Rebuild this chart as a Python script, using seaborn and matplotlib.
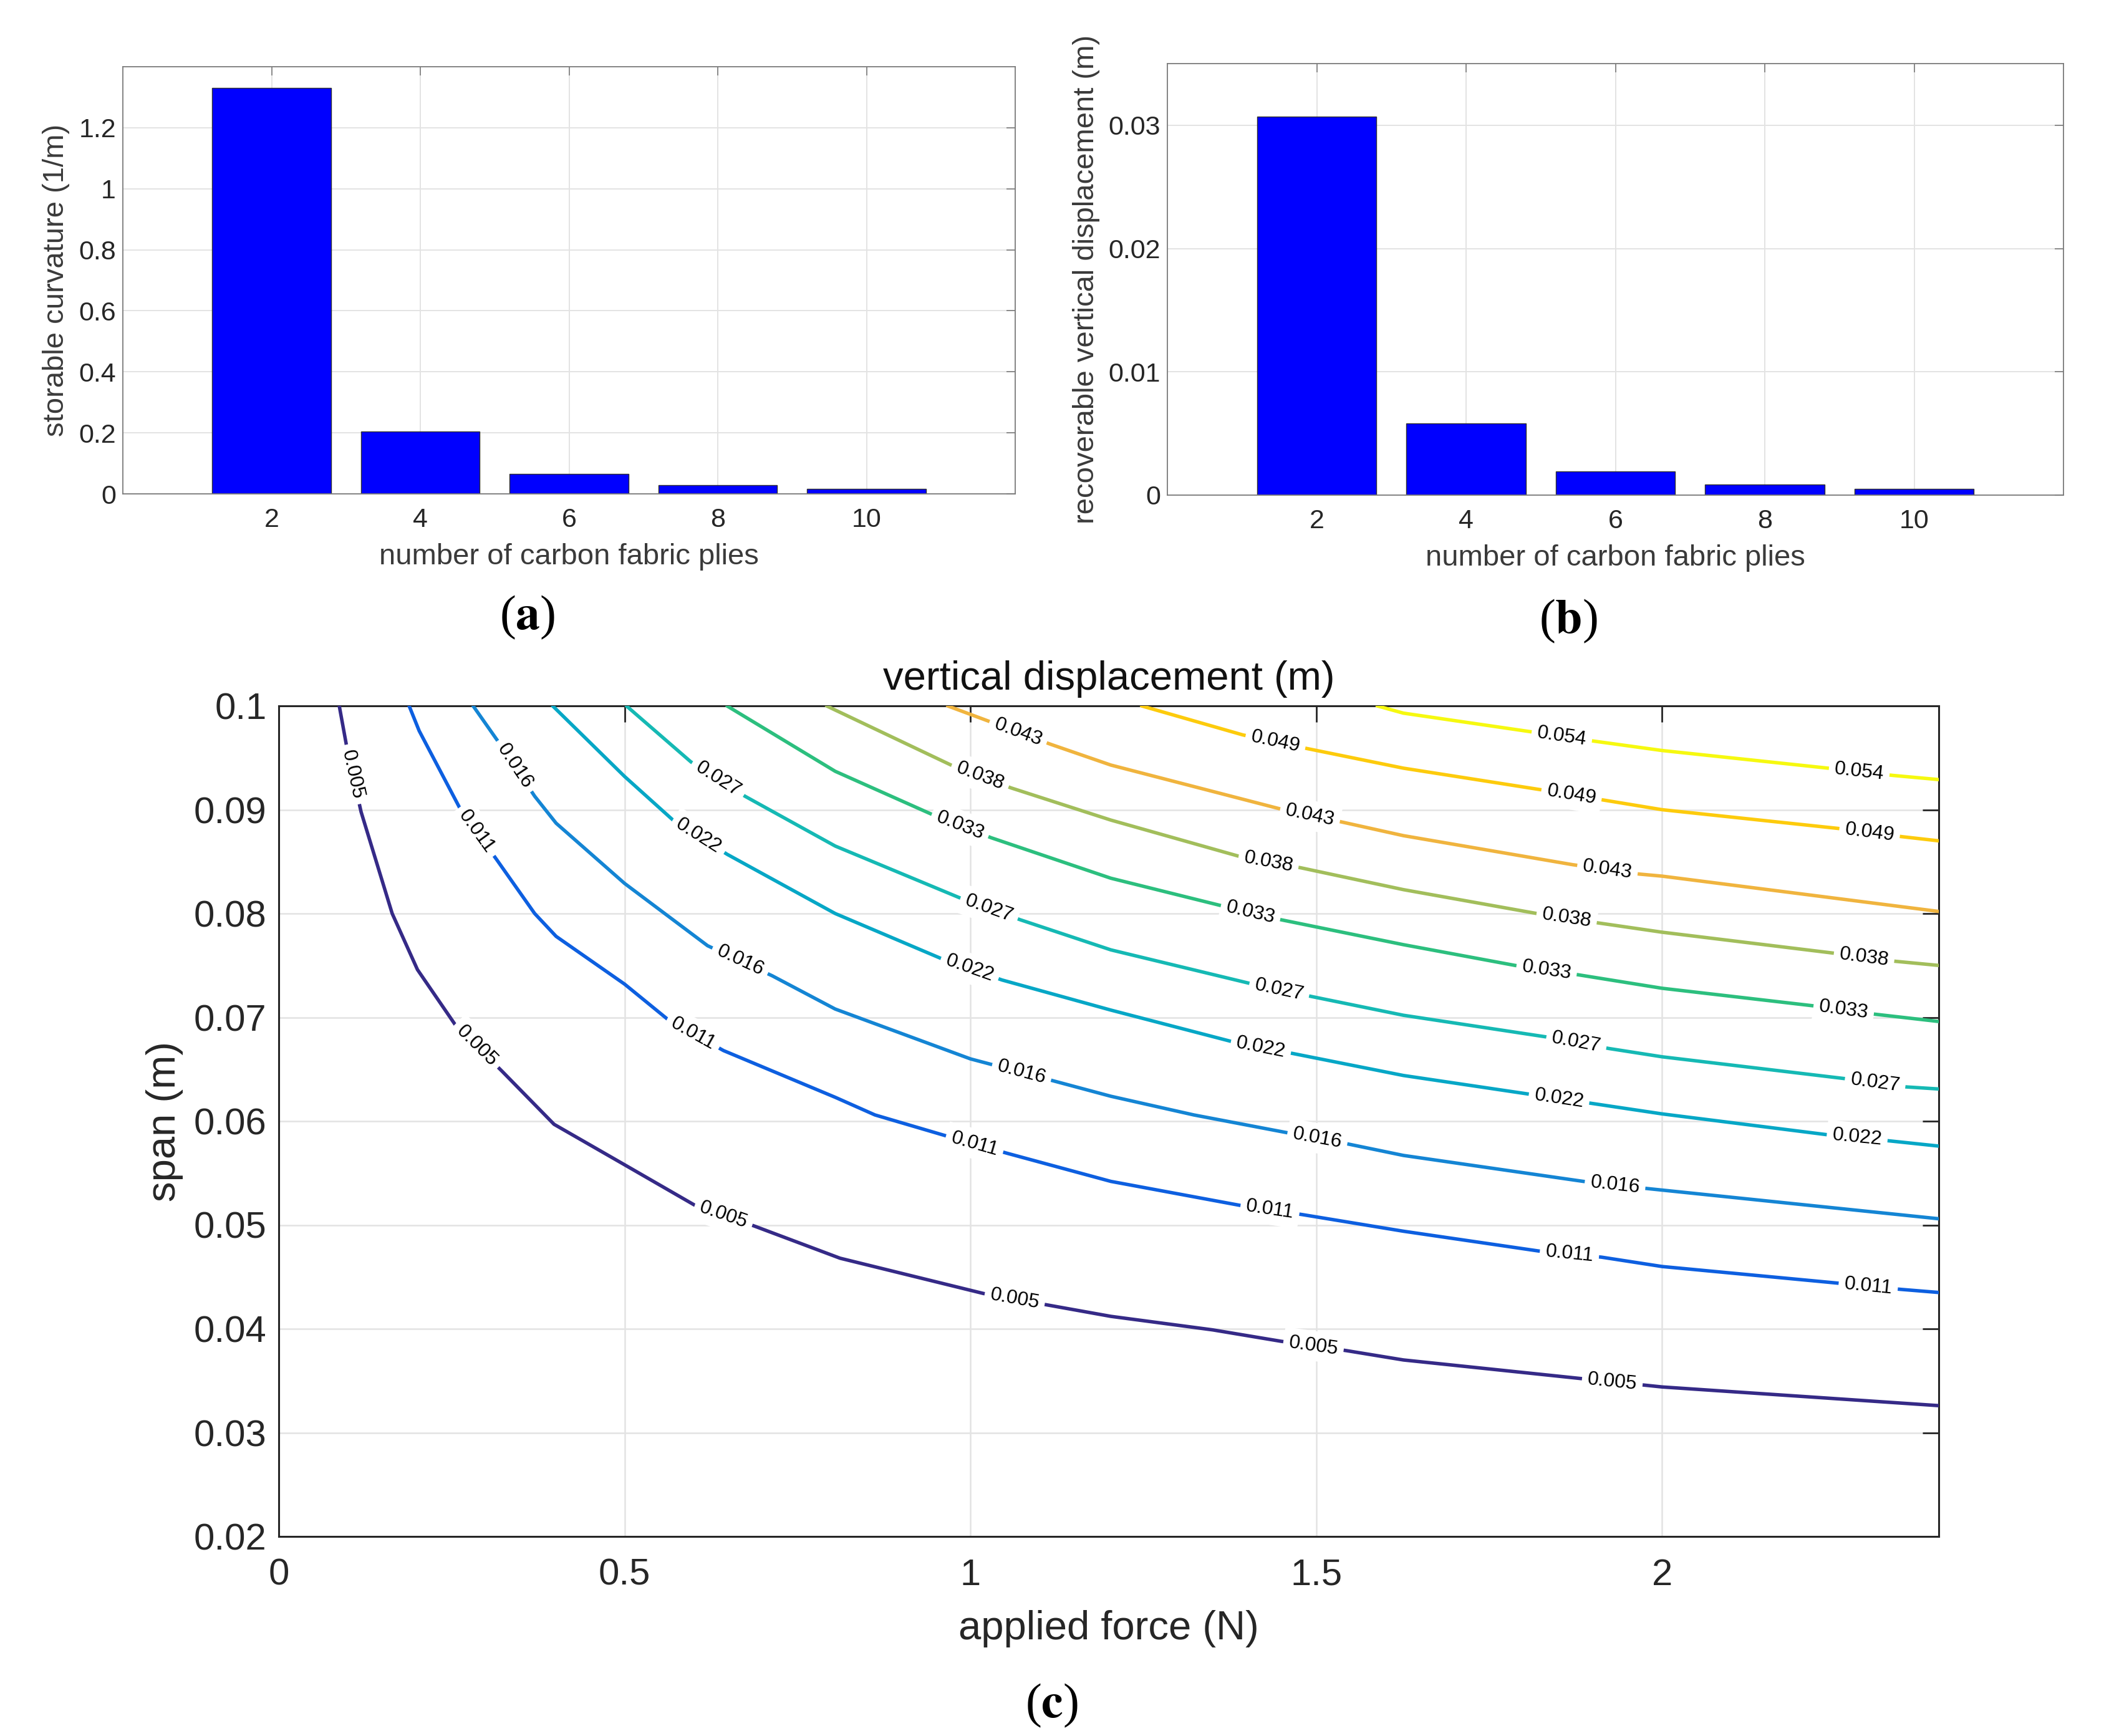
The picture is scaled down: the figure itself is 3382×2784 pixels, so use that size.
import numpy as np
import pandas as pd
import matplotlib
matplotlib.use("Agg")
import matplotlib.pyplot as plt
import seaborn as sns

# ------------------------------------------------------------------ data
plies = [2, 4, 6, 8, 10]
storable_curvature = [1.330, 0.204, 0.066, 0.029, 0.017]      # 1/m
recoverable_disp = [0.0307, 0.0058, 0.0019, 0.00085, 0.00051]  # m

curv_yticks = [0, 0.2, 0.4, 0.6, 0.8, 1.0, 1.2]
curv_yticklabels = ["0", "0.2", "0.4", "0.6", "0.8", "1", "1.2"]
disp_yticks = [0, 0.01, 0.02, 0.03]
disp_yticklabels = ["0", "0.01", "0.02", "0.03"]
plies_ticks = [2, 4, 6, 8, 10]
plies_ticklabels = ["2", "4", "6", "8", "10"]

force_ticks = [0, 0.5, 1, 1.5, 2]
force_ticklabels = ["0", "0.5", "1", "1.5", "2"]
span_ticks = [0.02, 0.03, 0.04, 0.05, 0.06, 0.07, 0.08, 0.09, 0.1]
span_ticklabels = ["0.02", "0.03", "0.04", "0.05", "0.06", "0.07", "0.08", "0.09", "0.1"]

# contour levels of vertical displacement (m), as labelled
level_labels = ["0.005", "0.011", "0.016", "0.022", "0.027",
                "0.033", "0.038", "0.043", "0.049", "0.054"]

# iso-displacement lines: applied force F (N) and span L (m)
F_005 = [0.0875, 0.099, 0.119, 0.164, 0.2005, 0.255, 0.323, 0.398, 0.5, 0.6016, 0.6875,
         0.8115, 1.019, 1.111, 1.203, 1.350, 1.449, 1.5435, 1.626, 1.884, 2.0, 2.4]
L_005 = [0.1, 0.0958, 0.0898, 0.0800, 0.0746, 0.0693, 0.0648, 0.0597, 0.0558, 0.0519, 0.0499,
         0.0468, 0.0434, 0.0423, 0.0412, 0.0399, 0.0388, 0.0379, 0.0370, 0.0352, 0.0344, 0.0326]

F_011 = [0.1885, 0.203, 0.263, 0.315, 0.370, 0.401, 0.5, 0.5625, 0.643, 0.8045, 0.862, 0.964,
         1.0535, 1.203, 1.389, 1.48, 1.626, 1.821, 1.9125, 2.0, 2.254, 2.345, 2.4]
L_011 = [0.1, 0.0976, 0.0900, 0.0852, 0.0800, 0.0778, 0.0732, 0.0698, 0.0668, 0.0623, 0.0606, 0.0586,
         0.0569, 0.0542, 0.0519, 0.0510, 0.0494, 0.0475, 0.0469, 0.0460, 0.0444, 0.0438, 0.0435]

F_016 = [0.281, 0.320, 0.370, 0.401, 0.5, 0.620, 0.7135, 0.8045, 1.0, 1.119, 1.203, 1.323,
         1.457, 1.546, 1.626, 1.886, 1.98, 2.4]
L_016 = [0.1, 0.0963, 0.0913, 0.0887, 0.0829, 0.0769, 0.0740, 0.0708, 0.0660, 0.0639, 0.0624, 0.0606,
         0.0589, 0.0578, 0.0567, 0.0542, 0.0535, 0.0506]

F_022 = [0.396, 0.5, 0.570, 0.6484, 0.8045, 0.9565, 1.0456, 1.203, 1.376, 1.4675, 1.626, 1.808,
         1.8995, 2.0, 2.238, 2.329, 2.4]
L_022 = [0.1, 0.0932, 0.0890, 0.0857, 0.0800, 0.0757, 0.0736, 0.0707, 0.0677, 0.0665, 0.0644, 0.0626,
         0.0617, 0.0607, 0.0587, 0.0581, 0.0576]

F_027 = [0.5026, 0.596, 0.674, 0.8045, 0.985, 1.072, 1.203, 1.402, 1.4937, 1.626, 1.834, 1.923,
         2.0, 2.264, 2.3526, 2.4]
L_027 = [0.1, 0.0946, 0.0913, 0.0865, 0.0815, 0.0794, 0.0765, 0.0733, 0.0720, 0.0702, 0.0681, 0.0670,
         0.0662, 0.0641, 0.0633, 0.0631]

F_033 = [0.648, 0.8045, 0.946, 1.03, 1.203, 1.36, 1.449, 1.626, 1.7875, 1.8786, 2.0, 2.22, 2.308, 2.4]
L_033 = [0.1, 0.0937, 0.0895, 0.0873, 0.0834, 0.0808, 0.0794, 0.0770, 0.0750, 0.0741, 0.0728, 0.0711,
         0.0703, 0.0696]

F_038 = [0.792, 0.8045, 0.972, 1.0587, 1.203, 1.389, 1.478, 1.626, 1.819, 1.907, 2.0, 2.246, 2.337, 2.4]
L_038 = [0.1, 0.0996, 0.0943, 0.0921, 0.0890, 0.0855, 0.0844, 0.0823, 0.0800, 0.0791, 0.0782, 0.0762,
         0.0754, 0.0750]

F_043 = [0.967, 1.116, 1.203, 1.4465, 1.538, 1.626, 1.871, 1.967, 2.0, 2.4]
L_043 = [0.1, 0.0963, 0.0943, 0.0901, 0.0888, 0.0875, 0.0847, 0.0838, 0.0836, 0.0802]

F_049 = [1.2474, 1.394, 1.486, 1.626, 1.827, 1.918, 2.0, 2.254, 2.347, 2.4]
L_049 = [0.1, 0.0972, 0.0959, 0.0940, 0.0919, 0.0909, 0.0900, 0.0882, 0.0874, 0.0870]

F_054 = [1.588, 1.626, 1.811, 1.902, 2.0, 2.24, 2.334, 2.4]
L_054 = [0.1, 0.0993, 0.0975, 0.0966, 0.0957, 0.0940, 0.0933, 0.0929]

line_F = [F_005, F_011, F_016, F_022, F_027, F_033, F_038, F_043, F_049, F_054]
line_L = [L_005, L_011, L_016, L_022, L_027, L_033, L_038, L_043, L_049, L_054]

# ------------------------------------------------------------------ styling / layout
level_colors = ["#352a87", "#0d5fe0", "#1485d4", "#06a7c6", "#15b9b4",
                "#2cbf7e", "#a2be5b", "#f0b43e", "#fdcb0c", "#f6f90f"]
# inline label positions along each line (in force units)
label_at = [[0.107, 0.286, 0.643, 1.064, 1.496, 1.928],
            [0.286, 0.599, 1.006, 1.433, 1.866, 2.298],
            [0.341, 0.667, 1.074, 1.5016, 1.932],
            [0.607, 0.999, 1.42, 1.851, 2.282],
            [0.635, 1.027, 1.4465, 1.876, 2.308],
            [0.985, 1.405, 1.833, 2.2625],
            [1.014, 1.431, 1.862, 2.292],
            [1.069, 1.491, 1.921],
            [1.441, 1.869, 2.30],
            [1.855, 2.285]]

sns.set_style("white")
plt.rcParams["font.family"] = ["Liberation Sans", "DejaVu Sans"]
plt.rcParams["mathtext.fontset"] = "stix"

W, H = 3382, 2784
DPI = 100
fig = plt.figure(figsize=(W / DPI, H / DPI), dpi=DPI)
fig.patch.set_facecolor("white")


def px_axes(left, top, right, bottom):
    return fig.add_axes([left / W, 1 - bottom / H, (right - left) / W, (bottom - top) / H])


TXT = "#262626"
GRID = "#e3e3e3"


def style_bar_axes(ax):
    for sp in ax.spines.values():
        sp.set_visible(True)
        sp.set_color("#7a7a7a")
        sp.set_linewidth(1.3)
    ax.tick_params(direction="in", length=10, width=1.2, color="#7a7a7a",
                   labelsize=31, labelcolor=TXT, top=True, right=True,
                   labeltop=False, labelright=False)
    ax.tick_params(axis="x", pad=16)
    ax.tick_params(axis="y", pad=8)
    ax.grid(True, color=GRID, linewidth=1.4)
    ax.set_axisbelow(True)


# ------------------------------------------------------------------ (a)
axA = px_axes(197, 107, 1628, 792)
sns.barplot(x=plies, y=storable_curvature, native_scale=True, color="#0000ff",
            saturation=1, width=0.8, edgecolor="#303030", linewidth=1.0, ax=axA)
axA.set_xlim(0, 12)
axA.set_ylim(0, 1.4)
axA.set_xticks(plies_ticks)
axA.set_xticklabels(plies_ticklabels)
axA.set_yticks(curv_yticks)
axA.set_yticklabels(curv_yticklabels)
style_bar_axes(axA)
axA.set_xlabel("number of carbon fabric plies", fontsize=34, color="#3a3a3a", labelpad=12)
axA.set_ylabel("storable curvature (1/m)", fontsize=34, color="#3a3a3a", labelpad=10)

# ------------------------------------------------------------------ (b)
axB = px_axes(1872, 102, 3309, 794)
sns.barplot(x=plies, y=recoverable_disp, native_scale=True, color="#0000ff",
            saturation=1, width=0.8, edgecolor="#303030", linewidth=1.0, ax=axB)
axB.set_xlim(0, 12)
axB.set_ylim(0, 0.035)
axB.set_xticks(plies_ticks)
axB.set_xticklabels(plies_ticklabels)
axB.set_yticks(disp_yticks)
axB.set_yticklabels(disp_yticklabels)
style_bar_axes(axB)
axB.set_xlabel("number of carbon fabric plies", fontsize=34, color="#3a3a3a", labelpad=12)
axB.set_ylabel("recoverable vertical displacement (m)", fontsize=34, color="#3a3a3a", labelpad=10)

# ------------------------------------------------------------------ (c)
axC = px_axes(447, 1132, 3109, 2464)
axC.set_xlim(0, 2.4)
axC.set_ylim(0.02, 0.1)

rows = []
for lab, Fs, Ls in zip(level_labels, line_F, line_L):
    for i, (f, l) in enumerate(zip(Fs, Ls)):
        rows.append({"level": lab, "order": i, "F": f, "L": l})
df = pd.DataFrame(rows)
palette = dict(zip(level_labels, level_colors))
sns.lineplot(data=df, x="F", y="L", hue="level", palette=palette, sort=False,
             estimator=None, linewidth=4.0, legend=False, ax=axC, zorder=3)
axC.set_xlim(0, 2.4)
axC.set_ylim(0.02, 0.1)

for sp in axC.spines.values():
    sp.set_visible(True)
    sp.set_color(TXT)
    sp.set_linewidth(2.2)
axC.set_xticks(force_ticks)
axC.set_xticklabels(force_ticklabels)
axC.set_yticks(span_ticks)
axC.set_yticklabels(span_ticklabels)
axC.tick_params(direction="in", length=19, width=2.0, color=TXT, labelsize=43,
                labelcolor=TXT, top=True, right=True, labeltop=False, labelright=False)
axC.tick_params(axis="x", pad=25)
axC.tick_params(axis="y", pad=14)
axC.grid(True, color=GRID, linewidth=1.8)
axC.set_axisbelow(True)
axC.set_xlabel("applied force (N)", fontsize=47, color=TXT, labelpad=20)
axC.set_ylabel("span (m)", fontsize=47, color=TXT, labelpad=12)
axC.set_title("vertical displacement (m)", fontsize=47, color="#111111", pad=19)

# inline contour labels, rotated along their line
for lab, Fs, Ls, positions in zip(level_labels, line_F, line_L, label_at):
    Fa = np.asarray(Fs)
    La = np.asarray(Ls)
    pts = axC.transData.transform(np.column_stack([Fa, La]))
    seg = np.diff(pts, axis=0)
    s = np.concatenate([[0.0], np.cumsum(np.hypot(seg[:, 0], seg[:, 1]))])
    for fp in positions:
        lp = np.interp(fp, Fa, La)
        sp0 = np.interp(fp, Fa, s)
        s1, s2 = sp0 - 40, sp0 + 40
        x1, y1 = np.interp(s1, s, pts[:, 0]), np.interp(s1, s, pts[:, 1])
        x2, y2 = np.interp(s2, s, pts[:, 0]), np.interp(s2, s, pts[:, 1])
        ang = np.degrees(np.arctan2(y2 - y1, x2 - x1))
        if ang > 90:
            ang -= 180
        if ang < -90:
            ang += 180
        axC.text(fp, lp, lab, fontsize=23, color="black", rotation=ang,
                 rotation_mode="anchor", ha="center", va="center", zorder=5,
                 bbox=dict(boxstyle="square,pad=0.28", facecolor="white",
                           edgecolor="none"))

# ------------------------------------------------------------------ panel captions
cap_kw = dict(fontsize=56, color="black", ha="center", va="center",
              family=["Liberation Serif", "DejaVu Serif"])
fig.text(846 / W, 1 - 990 / H, r"($\mathbf{a}$)", **cap_kw)
fig.text(2515 / W, 1 - 996 / H, r"($\mathbf{b}$)", **cap_kw)
fig.text(1686 / W, 1 - 2735 / H, r"($\mathbf{c}$)", **cap_kw)

fig.savefig("out.png", dpi=DPI, facecolor="white")
